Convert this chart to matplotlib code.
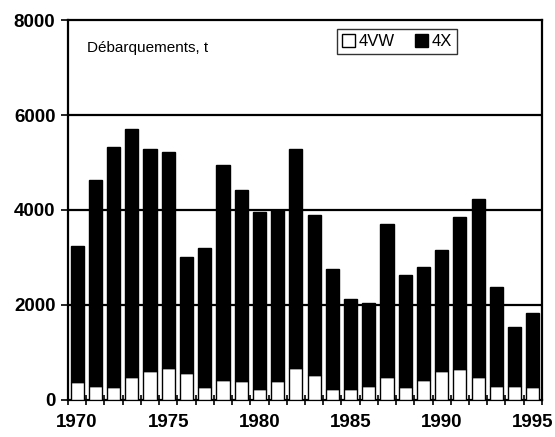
import matplotlib.pyplot as plt
from matplotlib.patches import Patch
import numpy as np

plt.rcParams['font.family'] = ['Liberation Sans', 'DejaVu Sans']

# --- data (tonnes) ---
years = list(range(1970, 1996))
total = [3250, 4630, 5330, 5700, 5280, 5230, 3000, 3190, 4950, 4430,
         3960, 4000, 5280, 3890, 2750, 2130, 2030, 3700, 2620, 2800,
         3160, 3860, 4240, 2370, 1530, 1840]
vw4 = [370, 300, 270, 490, 610, 670, 560, 270, 420, 400,
       225, 400, 680, 530, 225, 225, 300, 490, 270, 420,
       600, 650, 490, 300, 295, 280]
x4 = [t - v for t, v in zip(total, vw4)]

fig = plt.figure(figsize=(5.55, 4.37), dpi=100)
ax = fig.add_axes([0.1225, 0.085, 0.854, 0.869])

ax.bar(years, vw4, width=0.72, color='white', edgecolor='black', linewidth=1.0, zorder=3)
ax.bar(years, x4, bottom=vw4, width=0.72, color='black', edgecolor='black', linewidth=1.0, zorder=3)

ax.set_xlim(1969.5, 1995.5)
ax.set_ylim(0, 8000)

# grid lines
for g in [2000, 4000, 6000]:
    ax.axhline(g, color='black', linewidth=1.6, zorder=1)

ax.set_yticks([0, 2000, 4000, 6000, 8000])
ax.set_yticklabels(['0', '2000', '4000', '6000', '8000'], fontsize=13.5, fontweight='bold')
ax.set_xticks([1970, 1975, 1980, 1985, 1990, 1995])
ax.set_xticklabels(['1970', '1975', '1980', '1985', '1990', '1995'], fontsize=13.5, fontweight='bold')
ax.set_xticks(np.arange(1969.5, 1996, 1), minor=True)
ax.tick_params(axis='x', which='major', length=0, pad=10)
ax.tick_params(axis='x', which='minor', direction='inout', length=7, width=1.2)
ax.tick_params(axis='y', direction='out', length=5, width=1.2, pad=4)

for s in ax.spines.values():
    s.set_linewidth(1.6)

ax.text(0.04, 0.926, 'Débarquements, t', transform=ax.transAxes,
        fontsize=11, va='center', ha='left')

handles = [Patch(facecolor='white', edgecolor='black', label='4VW'),
           Patch(facecolor='black', edgecolor='black', label='4X')]
leg = ax.legend(handles=handles, loc='upper left', bbox_to_anchor=(0.567, 0.977),
                ncol=2, frameon=True, fancybox=False, fontsize=12,
                handlelength=0.8, handleheight=0.8, handletextpad=0.2,
                columnspacing=1.2, borderpad=0.3, borderaxespad=0)
leg.get_frame().set_edgecolor('black')
leg.get_frame().set_linewidth(1.0)

fig.savefig('out.png', dpi=100)
